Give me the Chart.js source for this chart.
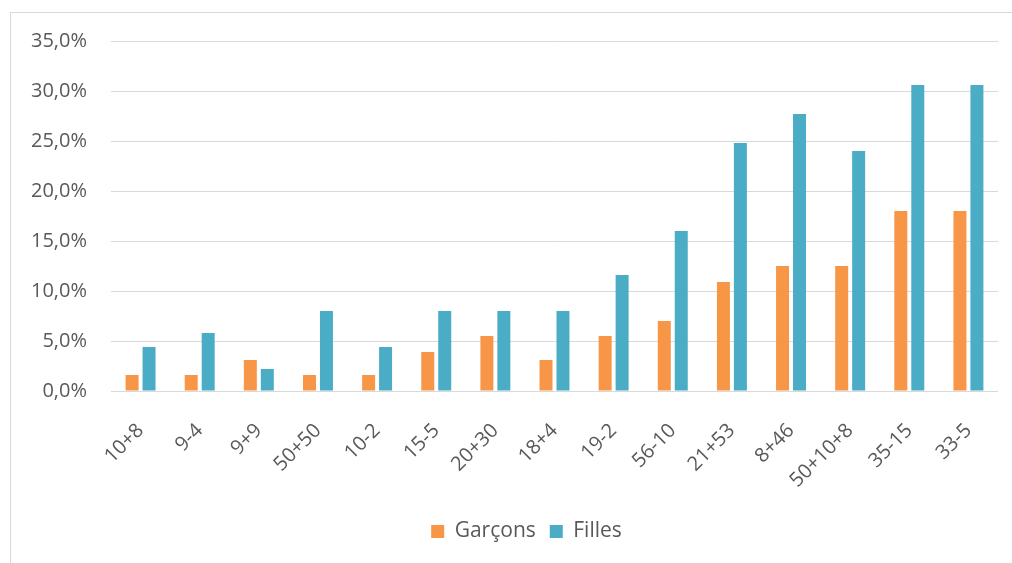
<!DOCTYPE html>
<html>
<head>
<meta charset="utf-8">
<script src="https://cdn.jsdelivr.net/npm/chart.js@4/dist/chart.umd.min.js"></script>
<style>
  html, body { margin: 0; padding: 0; background: #fff; }
  #wrap {
    position: absolute; left: 10px; top: 12px;
    width: 1010px; height: 560px;
    border: 1px solid #d9d9d9;
  }
  #chart { display: block; }
</style>
</head>
<body>
<div id="wrap"><canvas id="chart" width="1010" height="560"></canvas></div>
<script>
let categories = ["10+8", "9-4", "9+9", "50+50", "10-2", "15-5", "20+30", "18+4", "19-2", "56-10", "21+53", "8+46", "50+10+8", "35-15", "33-5"];
let garcons = [1.6, 1.6, 3.1, 1.6, 1.6, 3.9, 5.5, 3.1, 5.5, 7.0, 10.9, 12.5, 12.5, 18.0, 18.0];
let filles = [4.4, 5.8, 2.2, 8.0, 4.4, 8.0, 8.0, 8.0, 11.6, 16.0, 24.8, 27.7, 24.0, 30.6, 30.6];
let yTicks = [0, 5, 10, 15, 20, 25, 30, 35];

let font = "'Open Sans', 'Liberation Sans', sans-serif";

// the legend in the original sits a bit right of centre
const shiftLegend = {
    id: 'shiftLegend',
    afterLayout(chart) {
        chart.legend.left += 22;
        chart.legend.right += 22;
    }
};

let config = {
    type: 'bar',
    data: {
        labels: categories,
        datasets: [
            { label: "Garçons", data: garcons, backgroundColor: "#F79646", borderWidth: 0 },
            { label: "Filles", data: filles, backgroundColor: "#4BACC6", borderWidth: 0 }
        ]
    },
    options: {
        animation: false,
        responsive: false,
        categoryPercentage: 0.574,
        barPercentage: 0.765,
        layout: { padding: { left: 0, right: 23, top: 28, bottom: 21 } },
        plugins: {
            tooltip: { enabled: false },
            legend: {
                position: 'bottom',
                labels: {
                    boxWidth: 13, boxHeight: 13, padding: 14,
                    color: "#595959",
                    font: { family: font, size: 21 }
                }
            }
        },
        scales: {
            x: {
                grid: { display: false },
                border: { display: false },
                afterFit: axis => { axis.height = 116; },
                ticks: {
                    minRotation: 45, maxRotation: 45,
                    padding: 20,
                    color: "#595959",
                    font: { family: font, size: 20 }
                }
            },
            y: {
                min: 0, max: 35,
                afterBuildTicks: axis => { axis.ticks = yTicks.map(v => ({ value: v })); },
                afterFit: axis => {
                    axis.width = 100;
                    axis.paddingTop = 0;
                    axis.paddingBottom = 0;
                },
                grid: { color: "#d9d9d9", lineWidth: 1, drawTicks: false },
                border: { display: false },
                ticks: {
                    padding: 24,
                    color: "#595959",
                    font: { family: font, size: 20 },
                    callback: v => v.toFixed(1).replace('.', ',') + '%'
                }
            }
        }
    },
    plugins: [shiftLegend]
};

new Chart(document.getElementById("chart"), config);
</script>
</body>
</html>
